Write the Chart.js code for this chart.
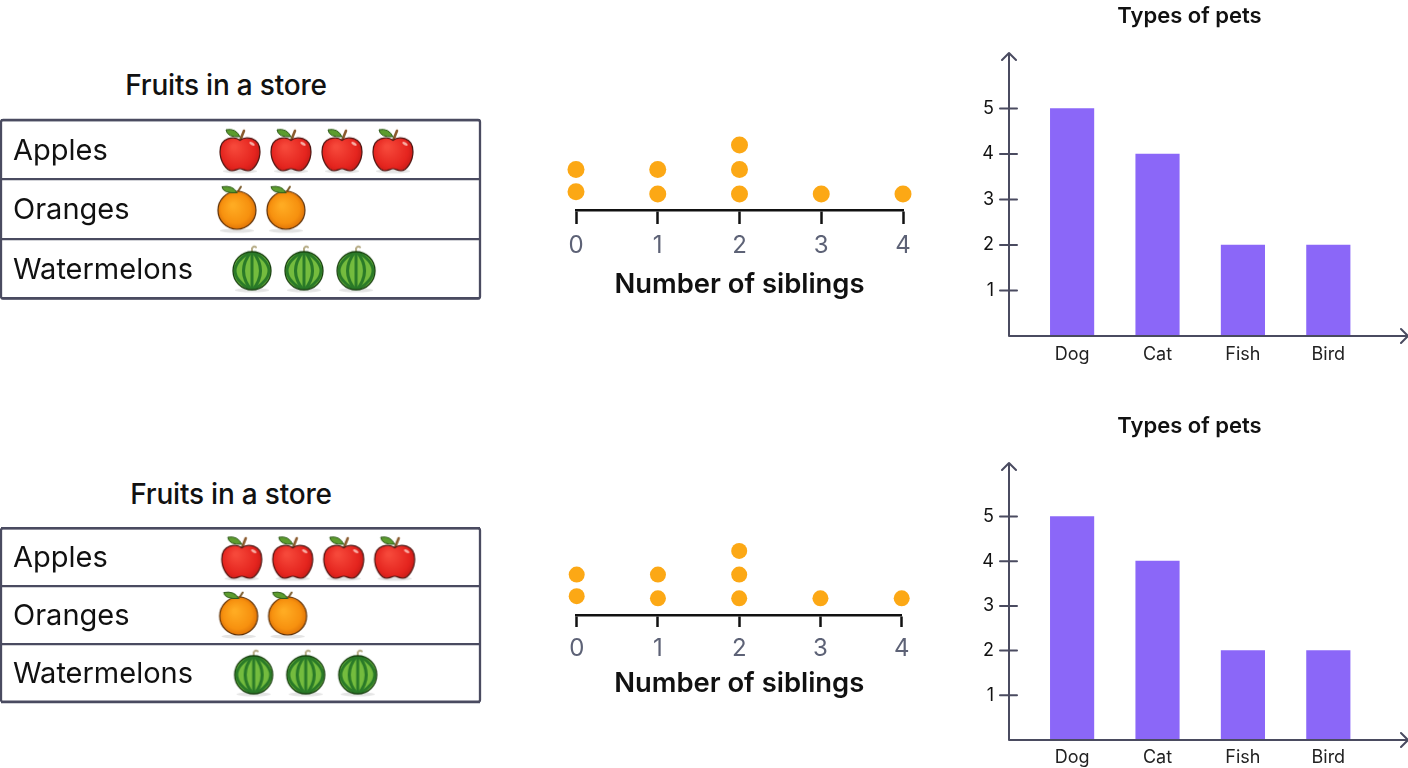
<!DOCTYPE html>
<html>
<head>
<meta charset="utf-8">
<title>Charts</title>
<script src="https://cdn.jsdelivr.net/npm/chart.js@4"></script>
<style>
  html, body { margin: 0; background: #fff; width: 1408px; height: 768px; overflow: hidden; }
  canvas { position: absolute; }
  .titulo { position: absolute; width: 400px; text-align: center; font: 500 28px Inter, sans-serif; line-height: 32px; color: #111; letter-spacing: -0.2px; }
</style>
</head>
<body>
<div class="titulo" style="left:26px; top:69px">Fruits in a store</div>
<div class="titulo" style="left:31px; top:478px">Fruits in a store</div>
<canvas id="frutas1" width="482" height="200" style="left:0; top:110px"></canvas>
<canvas id="frutas2" width="482" height="190" style="left:0; top:518px"></canvas>
<canvas id="pontos1" width="380" height="190" style="left:550px; top:120px"></canvas>
<canvas id="pontos2" width="380" height="180" style="left:550px; top:525px"></canvas>
<canvas id="barras1" width="438" height="380" style="left:971px; top:0"></canvas>
<canvas id="barras2" width="437" height="358" style="left:971px; top:410px"></canvas>

<script>
// dados
const fruitNames = ['Apples', 'Oranges', 'Watermelons'];
const fruitCounts = [4, 2, 3];

const siblingTicks = [0, 1, 2, 3, 4];
const dotSiblings = [0, 0, 1, 1, 2, 2, 2, 3, 4];
const dotLevels = [1.09, 2, 1, 2, 1, 2, 3, 1, 1];

const petTypes = ['Dog', 'Cat', 'Fish', 'Bird'];
const petCounts = [5, 4, 2, 2];
const petTicks = [1, 2, 3, 4, 5];

const INK = '#4a4b60';
Chart.defaults.font.family = 'Inter, sans-serif';
Chart.defaults.animation = false;
Chart.defaults.responsive = false;
Chart.defaults.layout.autoPadding = false;
Chart.defaults.plugins.legend.display = false;
Chart.defaults.plugins.tooltip.enabled = false;

// desenhos das frutas (usados como pointStyle)
function sprite(desenho) {
  const c = document.createElement('canvas');
  c.width = 48; c.height = 50;
  const g = c.getContext('2d');
  g.lineCap = 'round';
  g.fillStyle = 'rgba(90,90,90,0.16)';
  g.beginPath(); g.ellipse(24, 46.5, 17, 2, 0, 0, Math.PI * 2); g.fill();
  desenho(g);
  return c;
}

function leaf(g, x, y, tipX, tipY) {
  g.fillStyle = '#5c9c2e';
  g.strokeStyle = '#2f5a1b';
  g.lineWidth = 1;
  g.beginPath();
  g.moveTo(x, y);
  g.quadraticCurveTo(x - 4, tipY - 2, tipX, tipY);
  g.quadraticCurveTo(tipX + 1, y + 1, x, y);
  g.fill(); g.stroke();
}

const appleImg = sprite(g => {
  g.strokeStyle = '#8a5a2e'; g.lineWidth = 2.6;
  g.beginPath(); g.moveTo(24, 16); g.lineTo(28, 6); g.stroke();
  const grad = g.createRadialGradient(18, 22, 2, 24, 28, 25);
  grad.addColorStop(0, '#f6483a');
  grad.addColorStop(0.65, '#e5251f');
  grad.addColorStop(1, '#b51512');
  g.fillStyle = grad;
  g.strokeStyle = '#4d1410'; g.lineWidth = 1.2;
  g.beginPath();
  g.moveTo(24, 15.5);
  g.bezierCurveTo(29, 11.5, 44, 11.5, 44, 27);
  g.bezierCurveTo(44, 36, 38, 46, 32, 46);
  g.bezierCurveTo(28, 46, 27, 44, 24, 44);
  g.bezierCurveTo(21, 44, 20, 46, 16, 46);
  g.bezierCurveTo(10, 46, 4, 36, 4, 27);
  g.bezierCurveTo(4, 11.5, 19, 11.5, 24, 15.5);
  g.fill(); g.stroke();
  g.fillStyle = 'rgba(255,220,210,0.75)';
  g.beginPath(); g.ellipse(36, 19, 3, 1.4, 0.5, 0, Math.PI * 2); g.fill();
  leaf(g, 24, 12, 10, 5);
});

const orangeImg = sprite(g => {
  g.strokeStyle = '#7a5a2a'; g.lineWidth = 2;
  g.beginPath(); g.moveTo(24.5, 8); g.lineTo(28, 2.5); g.stroke();
  const grad = g.createRadialGradient(20, 21, 2, 24, 26, 20);
  grad.addColorStop(0, '#ffab22');
  grad.addColorStop(0.7, '#f7910f');
  grad.addColorStop(1, '#dd7006');
  g.fillStyle = grad;
  g.strokeStyle = '#5a2e06'; g.lineWidth = 1.2;
  g.beginPath(); g.arc(24, 26, 19, 0, Math.PI * 2); g.fill(); g.stroke();
  leaf(g, 24, 8.5, 9, 2.5);
});

const melonImg = sprite(g => {
  g.strokeStyle = '#b7ad88'; g.lineWidth = 2;
  g.beginPath(); g.moveTo(24, 9); g.lineTo(24, 4.5); g.quadraticCurveTo(26, 1.5, 28, 3.5); g.stroke();
  g.save();
  g.beginPath(); g.arc(24, 27, 19, 0, Math.PI * 2); g.clip();
  g.fillStyle = '#74bc3e';
  g.fillRect(0, 0, 48, 50);
  g.strokeStyle = '#2a7a28'; g.lineWidth = 3;
  [-2, -1, 0, 1, 2].forEach(k => {
    g.beginPath(); g.moveTo(24, 7); g.quadraticCurveTo(24 + k * 17, 27, 24, 47); g.stroke();
  });
  g.restore();
  g.strokeStyle = '#16400f'; g.lineWidth = 1.3;
  g.beginPath(); g.arc(24, 27, 19, 0, Math.PI * 2); g.stroke();
});

const fruitImgs = [appleImg, orangeImg, melonImg];
// onde cada linha comeca e o passo entre figuras, em "casas" do eixo x
const fruitStart = [0, -0.06, 0.235];
const fruitStep = [1, 0.96, 1.02];

const tableBox = {
  id: 'tableBox',
  afterDraw(chart) {
    const a = chart.chartArea, c = chart.ctx;
    c.save();
    c.strokeStyle = INK; c.lineWidth = 2.3;
    c.beginPath();
    c.roundRect(a.left, a.top, a.right - a.left, a.bottom - a.top, 2);
    c.stroke();
    c.restore();
  }
};

function fruitChart(id, xMin, xMax, padTop, padBottom) {
  new Chart(document.getElementById(id), {
    type: 'scatter',
    data: {
      datasets: fruitNames.map((nome, r) => ({
        label: nome,
        data: Array.from({ length: fruitCounts[r] }, (_, i) => ({ x: fruitStart[r] + i * fruitStep[r], y: nome })),
        pointStyle: fruitImgs[r],
        clip: false
      }))
    },
    options: {
      layout: { padding: { left: 1, right: 2, top: padTop, bottom: padBottom } },
      scales: {
        x: { type: 'linear', min: xMin, max: xMax, display: false },
        y: {
          type: 'category', labels: fruitNames, offset: true,
          afterFit: s => { s.width = 0; s.paddingTop = 0; s.paddingBottom = 0; s.paddingLeft = 0; s.paddingRight = 0; },
          border: { display: false },
          grid: { offset: true, color: INK, lineWidth: 2.3, drawTicks: false },
          ticks: { mirror: true, padding: 12, labelOffset: 1.5, color: '#111', font: { size: 29, weight: 400 } }
        }
      }
    },
    plugins: [tableBox]
  });
}
fruitChart('frutas1', -4.686, 4.706, 10, 11.5);
fruitChart('frutas2', -4.72, 4.673, 10.3, 6.3);

function dotChart(id, yMin, yMax, radius, tickLen, padLeft, padRight, axisHeight, labelPad, titlePad) {
  new Chart(document.getElementById(id), {
    type: 'scatter',
    data: {
      datasets: [{
        data: dotSiblings.map((s, i) => ({ x: s, y: dotLevels[i] })),
        pointRadius: radius,
        pointBackgroundColor: '#fca815',
        pointBorderWidth: 0,
        clip: false
      }]
    },
    options: {
      layout: { padding: { left: padLeft, right: padRight, top: 10, bottom: 0 } },
      scales: {
        x: {
          type: 'linear', min: 0, max: 4,
          afterBuildTicks: s => { s.ticks = siblingTicks.map(v => ({ value: v })); },
          afterFit: s => { s.height = axisHeight; },
          border: { display: true, color: '#111', width: 2.5 },
          grid: { drawOnChartArea: false, drawTicks: true, tickLength: tickLen, tickColor: '#111', tickWidth: 2.5, color: '#111' },
          ticks: { padding: labelPad, color: '#5d6276', font: { size: 24, weight: 400 } },
          title: { display: true, text: 'Number of siblings', color: '#111', font: { size: 27.4, weight: 600 }, padding: { top: 0, bottom: titlePad } }
        },
        y: { min: yMin, max: yMax, display: false }
      }
    }
  });
}
dotChart('pontos1', 0.347, 3.612, 8.5, 14, 26, 27, 100, 7, 9);
dotChart('pontos2', 0.295, 3.67, 8, 12, 26.7, 28.3, 90, 7, 5);

// eixos com seta e tracinhos dos dois lados
const arrowAxes = {
  id: 'arrowAxes',
  afterDatasetsDraw(chart) {
    const a = chart.chartArea, c = chart.ctx, y = chart.scales.y;
    c.save();
    c.strokeStyle = INK; c.lineWidth = 2; c.lineCap = 'round'; c.lineJoin = 'round';
    c.beginPath();
    c.moveTo(a.left, a.top); c.lineTo(a.left, a.bottom); c.lineTo(a.right, a.bottom);
    c.moveTo(a.left - 7, a.top + 7); c.lineTo(a.left, a.top); c.lineTo(a.left + 7, a.top + 7);
    c.moveTo(a.right - 7, a.bottom - 7); c.lineTo(a.right, a.bottom); c.lineTo(a.right - 7, a.bottom + 7);
    petTicks.forEach(t => {
      const py = y.getPixelForValue(t);
      c.moveTo(a.left - 9, py); c.lineTo(a.left + 8, py);
    });
    c.stroke();
    c.restore();
  }
};

function barChart(id, yMax, axisHeight, labelPad, padRight) {
  new Chart(document.getElementById(id), {
    type: 'bar',
    data: {
      datasets: [{
        data: petCounts.map((v, i) => ({ x: i, y: v })),
        backgroundColor: '#8b67f8',
        barThickness: 43.5
      }]
    },
    options: {
      layout: { padding: { right: padRight } },
      plugins: {
        title: { display: true, text: 'Types of pets', color: '#111', font: { size: 22, weight: 600 }, padding: { top: 3, bottom: 23.6 } }
      },
      scales: {
        x: {
          type: 'linear', offset: false, min: -0.739, max: 3.933,
          afterBuildTicks: s => { s.ticks = petTypes.map((_, i) => ({ value: i })); },
          afterFit: s => { s.height = axisHeight; },
          border: { display: false },
          grid: { display: false, drawTicks: false },
          ticks: { callback: v => petTypes[v], autoSkip: false, maxRotation: 0, padding: labelPad, color: '#222', font: { size: 18 } }
        },
        y: {
          min: 0, max: yMax,
          afterBuildTicks: s => { s.ticks = petTicks.map(v => ({ value: v })); },
          afterFit: s => { s.width = 38; },
          border: { display: false },
          grid: { display: false, drawTicks: false },
          ticks: { padding: 15, color: '#111', font: { size: 18 } }
        }
      }
    },
    plugins: [arrowAxes]
  });
}
barChart('barras1', 6.22, 44, 8, 1);
barChart('barras2', 6.197, 28, 7, 0);
</script>
</body>
</html>
